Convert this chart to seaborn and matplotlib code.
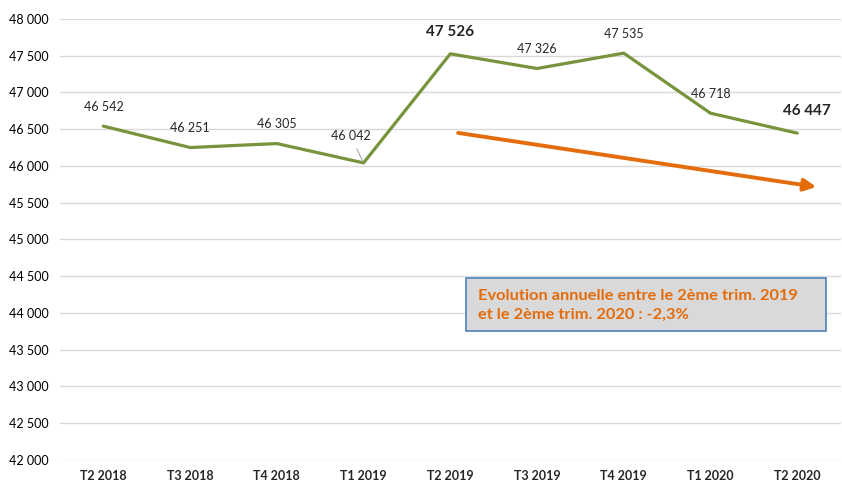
import matplotlib
matplotlib.use("Agg")
import matplotlib.pyplot as plt
import seaborn as sns
import pandas as pd
from matplotlib.ticker import FuncFormatter, MultipleLocator
from matplotlib.patches import Rectangle

categories = ["T2 2018", "T3 2018", "T4 2018", "T1 2019", "T2 2019",
              "T3 2019", "T4 2019", "T1 2020", "T2 2020"]
values = [46542, 46251, 46305, 46042, 47526, 47326, 47535, 46718, 46447]
bold_labels = [False, False, False, False, True, False, False, False, True]
trend_start = (4.09, 46450)
trend_end = (8.22, 45715)
note_text = "Evolution annuelle entre le 2ème trim. 2019\net le 2ème trim. 2020 : -2,3%"

sns.set_theme(style="white")
plt.rcParams['font.family'] = ['Lato', 'DejaVu Sans']

df = pd.DataFrame({"trim": categories, "val": values})

fig = plt.figure(figsize=(8.42, 4.84), dpi=100)
ax = fig.add_axes([0.0713, 0.0496, 0.927, 0.9112])

sns.lineplot(data=df, x="trim", y="val", ax=ax, color="#77933C", linewidth=2.3, sort=False)

ax.set_xlim(-0.5, len(categories) - 0.5)
ax.set_ylim(42000, 48000)
ax.yaxis.set_major_locator(MultipleLocator(500))
ax.yaxis.set_major_formatter(FuncFormatter(lambda v, p: f"{int(v):,}".replace(",", " ")))
ax.grid(axis="y", color="#D9D9D9", linewidth=1)
ax.set_axisbelow(True)
for s in ax.spines.values():
    s.set_visible(False)
ax.set_xlabel("")
ax.set_ylabel("")
ax.tick_params(axis="y", labelsize=9, pad=8, length=0, colors="#000000")
ax.tick_params(axis="x", labelsize=9, pad=7, length=0)
for t in ax.get_xticklabels():
    t.set_fontweight("bold")

for i, (v, b) in enumerate(zip(values, bold_labels)):
    if i == 3:
        ax.annotate(f"{v:,}".replace(",", " "), xy=(i, v), xytext=(-9.4, 19.4),
                    textcoords="offset points", ha="center", va="center", fontsize=9,
                    arrowprops=dict(arrowstyle="-", color="#A6A6A6", lw=0.8,
                                    shrinkA=3, shrinkB=1))
    else:
        dx = 7 if i == len(values) - 1 else 0
        ax.annotate(f"{v:,}".replace(",", " "), xy=(i, v),
                    xytext=(dx, 16 if b else 14), textcoords="offset points",
                    ha="center", va="center",
                    fontsize=11 if b else 9, fontweight="bold" if b else "normal")

ax.annotate("", xy=trend_end, xytext=trend_start,
            arrowprops=dict(arrowstyle="-|>,head_length=0.6,head_width=0.3",
                            color="#E46C0A", lw=2.8, shrinkA=0, shrinkB=0))

ax.add_patch(Rectangle((0.520, 0.2925), 0.461, 0.1202, transform=ax.transAxes,
                       facecolor="#D9D9D9", edgecolor="#4F81BD", lw=1.2, zorder=3))
ax.text(0.5355, 0.351, note_text, transform=ax.transAxes, fontsize=11.8,
        fontweight="bold", color="#E46C0A", ha="left", va="center", linespacing=1.4,
        zorder=4)

fig.savefig("out.png", dpi=100)
